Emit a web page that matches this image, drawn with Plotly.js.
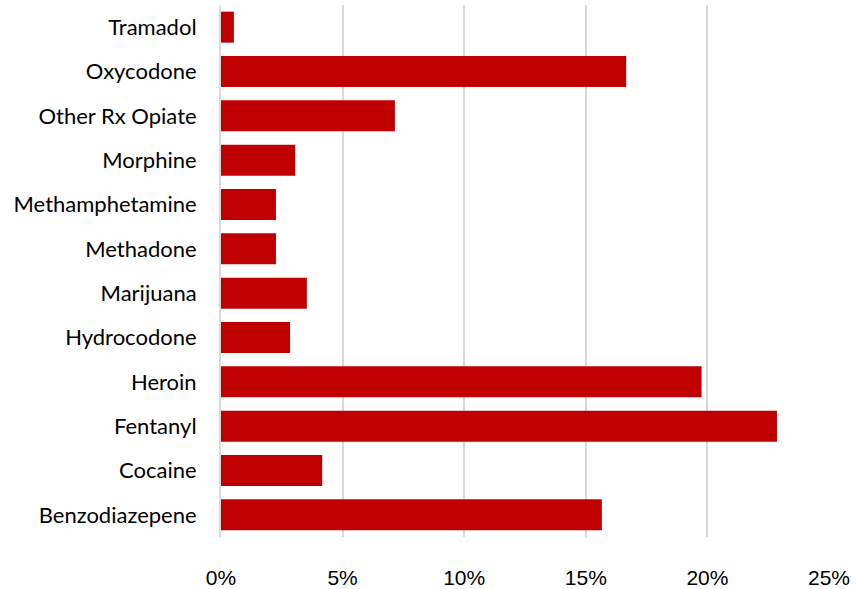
<!DOCTYPE html>
<html>
<head>
<meta charset="utf-8">
<script src="https://cdn.plot.ly/plotly-3.0.1.min.js"></script>
<style>html,body{margin:0;padding:0;background:#fff;}#chart{width:857px;height:589px;}</style>
</head>
<body>
<div id="chart"></div>
<script>
const categories = ["Tramadol","Oxycodone","Other Rx Opiate","Morphine","Methamphetamine","Methadone","Marijuana","Hydrocodone","Heroin","Fentanyl","Cocaine","Benzodiazepene"];
const values = [0.53, 16.66, 7.15, 3.05, 2.26, 2.26, 3.53, 2.84, 19.76, 22.86, 4.16, 15.66];
const xTicks = [0, 5, 10, 15, 20, 25];
const xTickLabels = ["0%","5%","10%","15%","20%","25%"];

Plotly.newPlot('chart', [{
  type: 'bar',
  orientation: 'h',
  y: categories,
  x: values,
  marker: {color: '#c00000', line: {width: 0}},
  hoverinfo: 'x+y'
}], {
  width: 857, height: 589,
  margin: {l: 221, r: 28, t: 5, b: 52},
  paper_bgcolor: '#ffffff',
  plot_bgcolor: '#ffffff',
  bargap: 0.3,
  showlegend: false,
  xaxis: {
    range: [0, 25],
    tickvals: xTicks,
    ticktext: xTickLabels,
    showgrid: true,
    gridcolor: '#d9d9d9',
    gridwidth: 2,
    zeroline: false,
    showline: false,
    ticks: '',
    ticklabelstandoff: 26,
    tickfont: {family: '"Liberation Sans Narrow", "Arial Narrow", "Liberation Sans", sans-serif', size: 21, color: '#000000'}
  },
  yaxis: {
    type: 'category',
    autorange: 'reversed',
    showgrid: false,
    zeroline: false,
    showline: true,
    linecolor: '#d9d9d9',
    linewidth: 2,
    ticks: '',
    ticklabelstandoff: 18,
    tickfont: {family: 'Lato, "Open Sans", sans-serif', size: 22, color: '#000000'}
  }
}, {displayModeBar: false, staticPlot: true});
</script>
</body>
</html>
